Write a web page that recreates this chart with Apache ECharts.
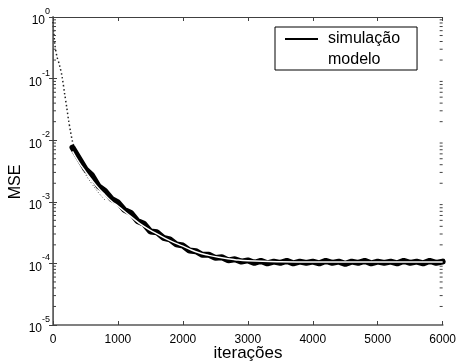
<!DOCTYPE html>
<html>
<head>
<meta charset="utf-8">
<script src="https://cdn.jsdelivr.net/npm/echarts@6/dist/echarts.min.js"></script>
<style>html,body{margin:0;padding:0;background:#fff;}#c{width:459px;height:362px;}</style>
</head>
<body>
<div id="c"></div>
<script>
// ---- data ----
const xTicks = [0, 1000, 2000, 3000, 4000, 5000, 6000];
const yDecades = [1e-5, 1e-4, 1e-3, 1e-2, 1e-1, 1];
const minorMult = [2, 3, 4, 5, 6, 7, 8, 9];
const minorDecades = [1e-5, 1e-4, 1e-3, 1e-2, 1e-1];

// simulation, early sparse (dotted) part
const simEarlyIter = [0, 30, 60, 100, 140, 180, 210, 240, 270, 300, 330];
const simEarlyMSE  = [0.83, 0.35, 0.23, 0.166, 0.107, 0.056, 0.035, 0.021, 0.0138, 0.0095, 0.0075];

// simulation, main noisy band
const simIter = [300,400,500,600,700,800,900,1000,1100,1200,1300,1400,1500,1600,1700,1800,1900,2000,
  2100,2200,2300,2400,2500,2600,2700,2800,2900,3000,3100,3200,3300,3400,3500,3600,3700,3800,3900,4000,
  4100,4200,4300,4400,4500,4600,4700,4800,4900,5000,5100,5200,5300,5400,5500,5600,5700,5800,5900,6000];
const simMSE = [7.6e-3,5.1e-3,3.4e-3,2.7e-3,1.8e-3,1.5e-3,1.12e-3,9.8e-4,7.4e-4,6.6e-4,4.9e-4,4.4e-4,3.3e-4,3.2e-4,
  2.6e-4,2.45e-4,2.04e-4,1.95e-4,1.62e-4,1.58e-4,1.38e-4,1.38e-4,1.23e-4,1.26e-4,1.12e-4,1.17e-4,1.07e-4,1.12e-4,
  1.02e-4,1.10e-4,1.00e-4,1.07e-4,1.02e-4,1.10e-4,1.00e-4,1.07e-4,1.02e-4,1.07e-4,1.00e-4,1.10e-4,1.02e-4,1.07e-4,
  9.8e-5,1.07e-4,1.02e-4,1.10e-4,1.00e-4,1.07e-4,1.02e-4,1.07e-4,1.00e-4,1.10e-4,1.02e-4,1.07e-4,1.00e-4,1.10e-4,1.02e-4,1.07e-4];

// lower noise edge of the simulation (visible dotted trace early on)
const lowIter = [330, 400, 500, 600, 700, 800];
const lowMSE  = [6.0e-3, 4.4e-3, 2.8e-3, 1.95e-3, 1.41e-3, 1.07e-3];

// model
const modelIter = [300,400,500,600,700,800,900,1000,1200,1400,1600,1800,2000,2200,2400,2600,2800,3000,3500,4000,5000,6000];
const modelMSE  = [6.6e-3,4.37e-3,3.09e-3,2.24e-3,1.66e-3,1.29e-3,1.02e-3,8.5e-4,5.75e-4,3.98e-4,3.02e-4,2.34e-4,
  1.91e-4,1.55e-4,1.35e-4,1.23e-4,1.15e-4,1.10e-4,1.06e-4,1.05e-4,1.05e-4,1.05e-4];

const zip = (a, b) => a.map((v, i) => [v, b[i]]);
const minorTicks = [];
minorDecades.forEach(d => minorMult.forEach(m => minorTicks.push([0, m * d])));

const FONT = 'Liberation Sans, Arial, Helvetica, sans-serif';
const chart = echarts.init(document.getElementById('c'), null, {renderer: 'canvas'});

const yLabel = v => {
  const e = Math.round(Math.log10(v));
  return '{b|10}{s|' + e + '}';
};

const lineIcon = 'path://M0,0 L66,0 L66,4 L0,4 Z';

chart.setOption({
  backgroundColor: '#fff',
  animation: false,
  grid: {left: 53, right: 15, top: 17, bottom: 37, containLabel: false},
  legend: {
    data: [
      {name: 'simulação', icon: lineIcon, itemStyle: {color: '#000'}},
      {name: 'modelo', icon: lineIcon, itemStyle: {color: '#fff'}}
    ],
    orient: 'vertical',
    left: 275, top: 27,
    padding: [4, 17, 2, 10],
    itemGap: 5,
    itemWidth: 33, itemHeight: 14,
    symbolKeepAspect: true,
    borderColor: '#000', borderWidth: 1,
    backgroundColor: '#fff',
    textStyle: {fontFamily: FONT, fontSize: 16, color: '#000', padding: [0, 0, 0, 5], lineHeight: 16},
    selectedMode: false
  },
  xAxis: [{
    type: 'value', min: 0, max: 6000, interval: 1000, position: 'bottom',
    axisLine: {show: true, lineStyle: {color: '#808080', width: 2}},
    axisTick: {show: true, inside: true, length: 4, lineStyle: {color: '#404040'}},
    axisLabel: {fontFamily: FONT, fontSize: 12, color: '#000', margin: 9, formatter: v => String(v)},
    splitLine: {show: false}
  }, {
    type: 'value', min: 0, max: 6000, interval: 1000, position: 'top',
    axisLine: {show: true, lineStyle: {color: '#404040', width: 1}},
    axisTick: {show: true, inside: true, length: 4, lineStyle: {color: '#404040'}},
    axisLabel: {show: false}, splitLine: {show: false}
  }],
  yAxis: [{
    type: 'log', logBase: 10, min: 1e-5, max: 1, position: 'left',
    axisLine: {show: true, lineStyle: {color: '#808080', width: 2}},
    axisTick: {show: true, inside: true, length: 4, lineStyle: {color: '#404040'}},
    axisLabel: {
      formatter: yLabel, margin: 3, color: '#000',
      rich: {
        b: {fontFamily: FONT, fontSize: 12, color: '#000', lineHeight: 20, verticalAlign: 'bottom', padding: [4, 0, 0, 0]},
        s: {fontFamily: FONT, fontSize: 9, color: '#000', lineHeight: 20, verticalAlign: 'top'}
      }
    },
    splitLine: {show: false}
  }, {
    type: 'log', logBase: 10, min: 1e-5, max: 1, position: 'right',
    axisLine: {show: true, lineStyle: {color: '#606060', width: 1}},
    axisTick: {show: true, inside: true, length: 4, lineStyle: {color: '#404040'}},
    axisLabel: {show: false}, splitLine: {show: false}
  }],
  series: [
    {
      name: 'minor', type: 'custom', xAxisIndex: 0, yAxisIndex: 0, silent: true,
      data: minorTicks, encode: {x: 0, y: 1}, clip: false, z: 5,
      renderItem: function (params, api) {
        const v = api.value(1);
        const l = api.coord([0, v]);
        const r = api.coord([6000, v]);
        const st = {stroke: '#404040', lineWidth: 1};
        return {type: 'group', children: [
          {type: 'line', shape: {x1: l[0], y1: l[1], x2: l[0] + 3, y2: l[1]}, style: st},
          {type: 'line', shape: {x1: r[0] - 3, y1: r[1], x2: r[0], y2: r[1]}, style: st}
        ]};
      }
    },
    {
      name: 'simEarly', type: 'line', data: zip(simEarlyIter, simEarlyMSE), smooth: 0.3,
      symbol: 'none', lineStyle: {color: '#222', width: 1.5, type: [1.5, 2.5]}, z: 2
    },
    {
      name: 'simLow', type: 'line', data: zip(lowIter, lowMSE),
      symbol: 'none', smooth: true, lineStyle: {color: '#555', width: 1, type: [1, 2]}, z: 2
    },
    {
      name: 'simulação', type: 'line', data: zip(simIter, simMSE),
      symbol: 'none', lineStyle: {color: '#000', width: 6, cap: 'round'}, itemStyle: {color: '#000'}, z: 3
    },
    {
      name: 'modelo', type: 'line', data: zip(modelIter, modelMSE),
      symbol: 'none', smooth: true, lineStyle: {color: '#fff', width: 1.5}, itemStyle: {color: '#fff'}, z: 4
    }
  ],
  graphic: [
    {type: 'text', x: 248, y: 353, style: {text: 'iterações', font: '17px ' + FONT, fill: '#000', textAlign: 'center', textVerticalAlign: 'middle'}},
    {type: 'text', rotation: Math.PI / 2, x: 16, y: 182, style: {text: 'MSE', font: '16px ' + FONT, fill: '#000', textAlign: 'center', textVerticalAlign: 'middle'}}
  ]
});
</script>
</body>
</html>
